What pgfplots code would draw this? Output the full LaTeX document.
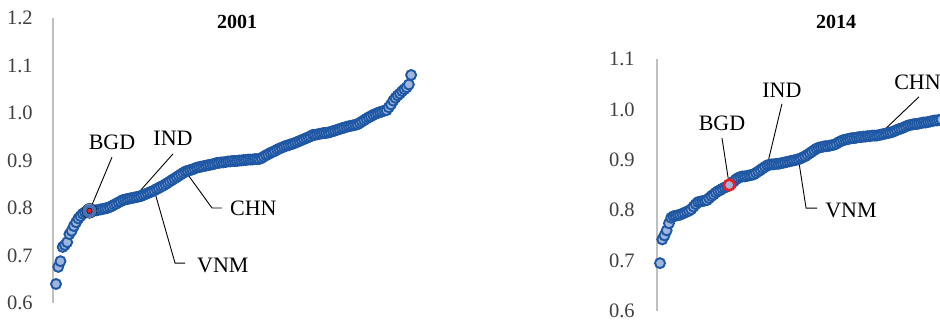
\documentclass[border=0pt]{standalone}
\usepackage{pgfplots}
\pgfplotsset{compat=1.18}
\usepackage{pgfplotstable}
\usepackage{fontspec}
\setmainfont{Liberation Serif}

\definecolor{ptfill}{RGB}{160,181,221}
\definecolor{ptedge}{RGB}{30,87,163}
\definecolor{axgray}{RGB}{191,191,191}
\definecolor{bgdred}{RGB}{236,28,36}
\definecolor{halo}{RGB}{80,118,184}
\definecolor{ticktext}{RGB}{64,64,64}

% Countries ranked by index value, 2001
\pgfplotstableread{
i v
1 0.640
2 0.676
3 0.688
4 0.718
5 0.722
6 0.728
7 0.745
8 0.752
9 0.762
10 0.770
11 0.778
12 0.783
13 0.788
14 0.791
15 0.793
16 0.794
17 0.794
18 0.795
19 0.795
20 0.796
21 0.797
22 0.798
23 0.799
24 0.800
25 0.802
26 0.804
27 0.807
28 0.809
29 0.812
30 0.814
31 0.817
32 0.818
33 0.819
34 0.820
35 0.821
36 0.822
37 0.823
38 0.824
39 0.825
40 0.827
41 0.829
42 0.831
43 0.833
44 0.835
45 0.837
46 0.840
47 0.842
48 0.845
49 0.847
50 0.850
51 0.853
52 0.856
53 0.859
54 0.862
55 0.865
56 0.868
57 0.871
58 0.874
59 0.877
60 0.878
61 0.880
62 0.881
63 0.883
64 0.885
65 0.886
66 0.887
67 0.888
68 0.889
69 0.890
70 0.891
71 0.892
72 0.893
73 0.895
74 0.895
75 0.896
76 0.896
77 0.897
78 0.898
79 0.898
80 0.899
81 0.899
82 0.899
83 0.900
84 0.900
85 0.901
86 0.901
87 0.902
88 0.902
89 0.902
90 0.903
91 0.903
92 0.903
93 0.905
94 0.908
95 0.911
96 0.913
97 0.916
98 0.918
99 0.920
100 0.923
101 0.925
102 0.927
103 0.929
104 0.931
105 0.932
106 0.934
107 0.935
108 0.937
109 0.939
110 0.941
111 0.943
112 0.945
113 0.947
114 0.949
115 0.951
116 0.954
117 0.954
118 0.955
119 0.956
120 0.957
121 0.958
122 0.958
123 0.959
124 0.960
125 0.962
126 0.963
127 0.965
128 0.966
129 0.968
130 0.969
131 0.971
132 0.972
133 0.973
134 0.974
135 0.975
136 0.976
137 0.979
138 0.982
139 0.985
140 0.988
141 0.991
142 0.993
143 0.996
144 0.998
145 1.000
146 1.002
147 1.003
148 1.005
149 1.006
150 1.012
151 1.018
152 1.026
153 1.032
154 1.037
155 1.041
156 1.046
157 1.050
158 1.054
159 1.060
160 1.080
}\tabA

% Countries ranked by index value, 2014
\pgfplotstableread{
i v
1 0.695
2 0.742
3 0.750
4 0.760
5 0.774
6 0.785
7 0.788
8 0.789
9 0.790
10 0.791
11 0.793
12 0.795
13 0.797
14 0.799
15 0.802
16 0.807
17 0.812
18 0.816
19 0.817
20 0.818
21 0.819
22 0.820
23 0.824
24 0.828
25 0.831
26 0.835
27 0.838
28 0.840
29 0.843
30 0.845
31 0.847
32 0.850
33 0.853
34 0.857
35 0.861
36 0.864
37 0.866
38 0.867
39 0.867
40 0.868
41 0.869
42 0.870
43 0.871
44 0.874
45 0.877
46 0.880
47 0.883
48 0.886
49 0.889
50 0.890
51 0.891
52 0.891
53 0.892
54 0.892
55 0.893
56 0.894
57 0.895
58 0.896
59 0.897
60 0.898
61 0.899
62 0.900
63 0.901
64 0.903
65 0.905
66 0.907
67 0.910
68 0.913
69 0.916
70 0.919
71 0.922
72 0.924
73 0.925
74 0.926
75 0.927
76 0.927
77 0.928
78 0.929
79 0.930
80 0.932
81 0.935
82 0.937
83 0.939
84 0.940
85 0.941
86 0.942
87 0.943
88 0.943
89 0.944
90 0.945
91 0.945
92 0.946
93 0.946
94 0.947
95 0.947
96 0.948
97 0.948
98 0.948
99 0.949
100 0.950
101 0.951
102 0.952
103 0.953
104 0.954
105 0.955
106 0.957
107 0.959
108 0.961
109 0.962
110 0.964
111 0.966
112 0.968
113 0.969
114 0.970
115 0.971
116 0.971
117 0.972
118 0.973
119 0.974
120 0.974
121 0.975
122 0.976
123 0.977
124 0.978
125 0.978
126 0.979
127 0.980
}\tabB

\pgfplotsset{
  panel/.style={
    scale only axis,
    clip=false,
    axis x line=none,
    axis y line=left,
    axis line style={-, draw=axgray, line width=1.5pt},
    ytick style={draw=none},
    xtick=\empty,
    yticklabel style={anchor=east, inner sep=0pt,
      font=\fontsize{20.5}{20.5}\selectfont, text=ticktext,
      /pgf/number format/fixed,
      /pgf/number format/fixed zerofill,
      /pgf/number format/precision=1,
      /pgf/number format/assume math mode=true},
  },
  dots/.style={only marks, mark=*, mark size=5.0pt,
    mark options={fill=ptfill, draw=ptedge, line width=1.9pt}},
}
\tikzset{
  lead/.style={draw=black, line width=0.9pt},
  tag/.style={font=\fontsize{22}{22}\selectfont, text=black, inner sep=0pt},
}

\begin{document}
\begin{tikzpicture}
\useasboundingbox (0pt,0pt) rectangle (940pt,321pt);
\clip (0pt,0pt) rectangle (940pt,321pt);

% ---- 2001 ----
\begin{axis}[panel,
  at={(53pt,18pt)}, anchor=south west,
  width=387pt, height=285pt,
  xmin=-0.3433, xmax=172.94, ymin=0.6, ymax=1.2,
  ytick={0.6,0.7,0.8,0.9,1.0,1.1,1.2},
  yticklabel style={xshift=-18pt}]
\addplot[dots] table[x=i, y=v] {\tabA};
\addplot[only marks, mark=*, mark size=7.5pt,
  mark options={fill=halo, draw=none, opacity=0.85}] coordinates {(16,0.794)};
\addplot[only marks, mark=*, mark size=2.7pt,
  mark options={fill=bgdred, draw=none}] coordinates {(16,0.794)};
% labels
\draw[lead] (axis cs:16,0.794) -- (axis cs:26.07,0.907);
\node[tag] at (axis cs:26.07,0.939) {BGD};
\draw[lead] (axis cs:36,0.822) -- (axis cs:53.4,0.914);
\node[tag] at (axis cs:53.4,0.947) {IND};
\draw[lead] (axis cs:59,0.877) -- (axis cs:70.85,0.800) -- (axis cs:75.3,0.800);
\node[tag, anchor=west] at (axis cs:78.9,0.800) {CHN};
\draw[lead] (axis cs:45,0.837) -- (axis cs:54.3,0.684) -- (axis cs:58.8,0.684);
\node[tag, anchor=west] at (axis cs:64.1,0.680) {VNM};
\end{axis}

% ---- 2014 ----
\begin{axis}[panel,
  at={(657pt,10pt)}, anchor=south west,
  width=383pt, height=252pt,
  xmin=-0.3433, xmax=171.15, ymin=0.6, ymax=1.1,
  ytick={0.6,0.7,0.8,0.9,1.0,1.1},
  yticklabel style={xshift=-20pt}]
\addplot[dots] table[x=i, y=v] {\tabB};
\addplot[only marks, mark=*, mark size=5.4pt,
  mark options={fill=ptfill, draw=bgdred, line width=2.6pt}] coordinates {(32,0.850)};
% labels
\draw[lead] (axis cs:32,0.850) -- (axis cs:28.76,0.943);
\node[tag] at (axis cs:28.76,0.973) {BGD};
\draw[lead] (axis cs:49,0.889) -- (axis cs:55.6,1.011);
\node[tag] at (axis cs:55.6,1.038) {IND};
\draw[lead] (axis cs:63,0.901) -- (axis cs:66.4,0.804) -- (axis cs:71.3,0.804);
\node[tag, anchor=west] at (axis cs:74.9,0.800) {VNM};
\draw[lead] (axis cs:99,0.949) -- (axis cs:116.97,1.025);
\node[tag, anchor=west] at (axis cs:105.8,1.054) {CHN};
\end{axis}

\node[font=\bfseries\fontsize{20}{20}\selectfont] at (237pt,299pt) {2001};
\node[font=\bfseries\fontsize{20}{20}\selectfont] at (836pt,299pt) {2014};
\end{tikzpicture}
\end{document}
